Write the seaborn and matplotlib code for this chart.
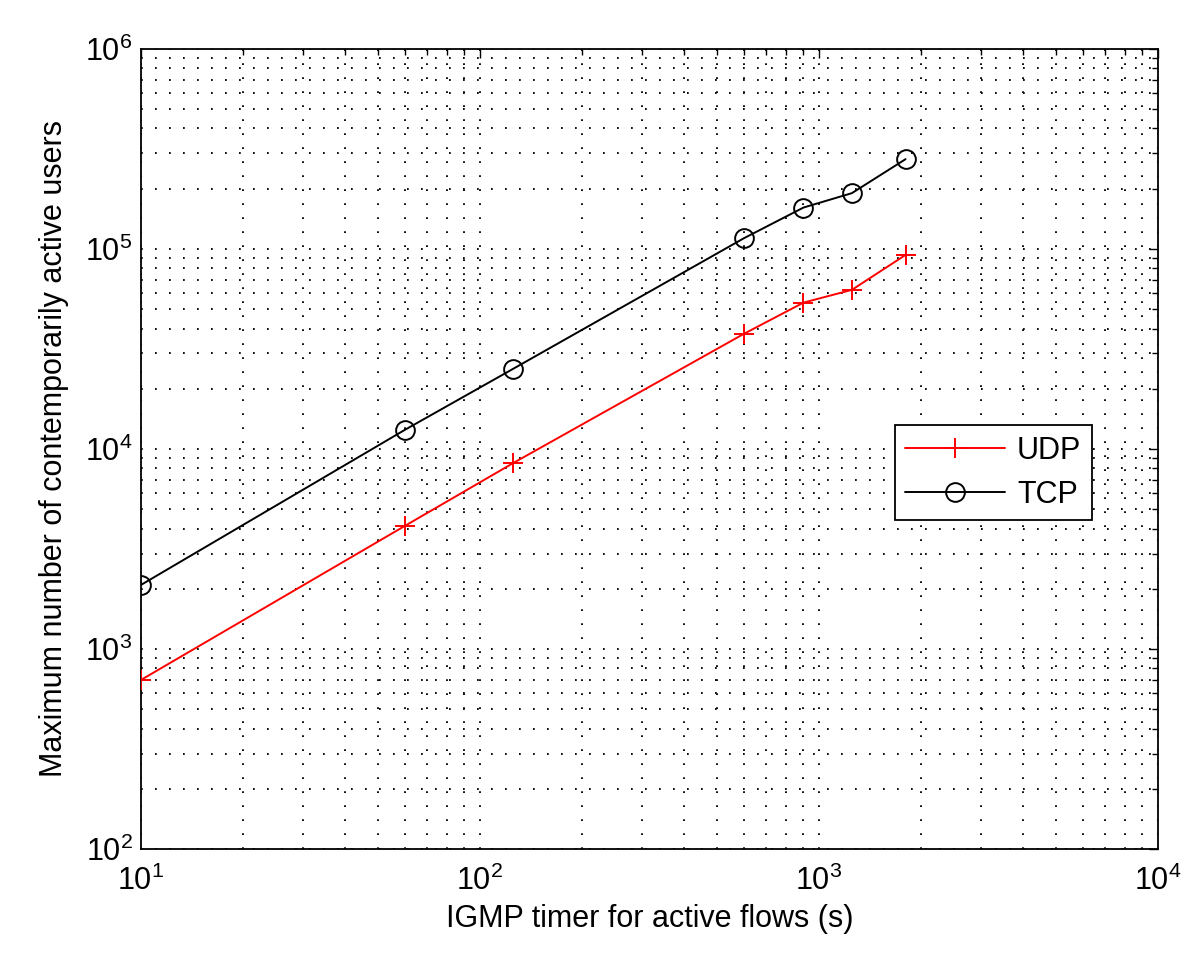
import numpy as np
import pandas as pd
import matplotlib
matplotlib.use("Agg")
import matplotlib.pyplot as plt
import matplotlib.ticker as mticker
import seaborn as sns

# IGMP timer values (s) and max number of simultaneously active users
timer_s = [10, 60, 125, 600, 900, 1250, 1800]
udp_users = [700, 4120, 8480, 37600, 53900, 62400, 93300]
tcp_users = [2090, 12450, 25100, 113000, 161000, 190000, 281000]

x_label = "IGMP timer for active flows (s)"
y_label = "Maximum number of contemporarily active users"

udp_df = pd.DataFrame({"timer": timer_s, "users": udp_users})
tcp_df = pd.DataFrame({"timer": timer_s, "users": tcp_users})

sns.set_theme(style="white")
plt.rcParams["font.family"] = ["Liberation Sans", "DejaVu Sans"]
plt.rcParams["mathtext.default"] = "regular"
plt.rcParams["axes.edgecolor"] = "black"
plt.rcParams["axes.labelcolor"] = "black"
plt.rcParams["text.color"] = "black"
plt.rcParams["axes.linewidth"] = 1.2

fig = plt.figure(figsize=(12, 9.57), dpi=100)
ax = fig.add_axes([0.1175, 0.1129, 0.8475, 0.836])

sns.lineplot(data=udp_df, x="timer", y="users", ax=ax, color="#ff0000",
             marker="+", markersize=14, mew=1.4, mec="#ff0000",
             linewidth=1.4, label="UDP", zorder=3)
sns.lineplot(data=tcp_df, x="timer", y="users", ax=ax, color="black",
             marker="o", markersize=13.5, mew=1.4, mec="black", mfc="none",
             linewidth=1.4, label="TCP", zorder=3)

ax.set_xscale("log")
ax.set_yscale("log")
ax.set_xlim(10, 1e4)
ax.set_ylim(1e2, 1e6)

ax.xaxis.set_major_locator(mticker.LogLocator(base=10, numticks=10))
ax.yaxis.set_major_locator(mticker.LogLocator(base=10, numticks=10))
ax.xaxis.set_minor_locator(mticker.LogLocator(base=10, subs=np.arange(2, 10), numticks=20))
ax.yaxis.set_minor_locator(mticker.LogLocator(base=10, subs=np.arange(2, 10), numticks=20))
ax.xaxis.set_minor_formatter(mticker.NullFormatter())
ax.yaxis.set_minor_formatter(mticker.NullFormatter())

ax.grid(which="both", color="0.05", linewidth=1.4, linestyle=(0, (0.9, 6.3)), zorder=0)

ax.tick_params(which="both", direction="in", top=True, right=True,
               colors="black", labelsize=22)
ax.tick_params(which="major", length=6.5, width=1.0)
ax.tick_params(which="minor", length=4, width=1.0)
ax.tick_params(axis="x", which="major", pad=12)
ax.tick_params(axis="y", which="major", pad=6)

for side in ax.spines.values():
    side.set_visible(True)
    side.set_color("black")
    side.set_linewidth(1.3)

ax.set_xlabel(x_label, fontsize=22, labelpad=5, color="black")
ax.set_ylabel(y_label, fontsize=22, labelpad=12, color="black")

leg = ax.legend(loc="upper right", bbox_to_anchor=(0.935, 0.53),
                borderaxespad=0, fontsize=22, frameon=True, fancybox=False,
                framealpha=1, edgecolor="black", handlelength=3.25,
                handletextpad=0.4, labelspacing=0.46, borderpad=0.35)
leg.get_frame().set_linewidth(1.3)
for txt in leg.get_texts():
    txt.set_color("black")

fig.savefig("out.png", dpi=100)
